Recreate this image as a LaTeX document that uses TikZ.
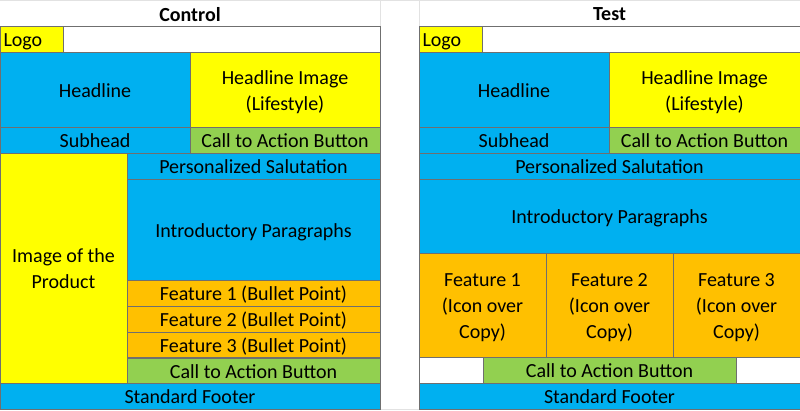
\documentclass[tikz,border=0pt]{standalone}
\usepackage{fontspec}
\setmainfont{Carlito}
\definecolor{xlblue}{HTML}{00B0F0}
\definecolor{xlyellow}{HTML}{FFFF00}
\definecolor{xlgreen}{HTML}{92D050}
\definecolor{xlorange}{HTML}{FFC000}
\definecolor{xlborder}{HTML}{6F6F6F}
\definecolor{xlgrid}{HTML}{E2E2E2}
\tikzset{
  cell/.style={rectangle, inner sep=0pt, outer sep=0pt,
    align=center, font=\fontsize{20}{26}\selectfont},
  border/.style={draw=xlborder, line width=0.9pt},
  title/.style={font=\fontsize{20}{25}\selectfont\bfseries, inner sep=0pt},
  grid/.style={draw=xlgrid, line width=0.8pt}
}
\newcommand\celltext[2]{\raisebox{-2.4pt}[\height][\depth]{\begin{tabular}{@{}#1@{}}#2\end{tabular}}}
\newcommand\xlcell[7]{\node[cell, fill=#6, minimum width={(#4-#2)*1pt}, minimum height={(#5-#3)*1pt}] (#1) at ({(#2+#4)/2},{(#3+#5)/2}) {\celltext{c}{#7}};}
\begin{document}
\begin{tikzpicture}[x=1pt,y=-1pt]
\useasboundingbox (0,0) rectangle (800,410);
\fill[white] (0,0) rectangle (800,410);
% faint spreadsheet grid
\coordinate (g1) at (0,0.5); \coordinate (g2) at (800,0.5);
\draw[grid] (g1) -- (g2);
\coordinate (g3) at (380.5,0); \coordinate (g4) at (380.5,26);
\draw[grid] (g3) -- (g4);
\coordinate (g5) at (419,0); \coordinate (g6) at (419,26);
\draw[grid] (g5) -- (g6);
\coordinate (g7) at (380,409.5); \coordinate (g8) at (419,409.5);
\draw[grid] (g7) -- (g8);
% titles
\node[title] (ctlTitle) at (190,14.5) {Control};
\node[title] (tstTitle) at (609.5,14.5) {Test};
% Control
\xlcell{ctlLogoRow}{0}{26}{380}{52}{white}{}
\node[cell, fill=xlyellow, minimum height=26pt, text width=56pt, inner xsep=3.5pt, align=left, anchor=west] (ctlLogo) at (0,39) {\celltext{l}{Logo}};
\xlcell{ctlHead}{0}{52}{190}{127}{xlblue}{Headline}
\xlcell{ctlHeadImg}{190}{52}{380}{127}{xlyellow}{Headline Image\\(Lifestyle)}
\xlcell{ctlSub}{0}{127}{190}{153}{xlblue}{Subhead}
\xlcell{ctlCtaA}{190}{127}{380}{153}{xlgreen}{Call to Action Button}
\xlcell{ctlImg}{0}{153}{127}{383}{xlyellow}{Image of the\\Product}
\xlcell{ctlSal}{127}{153}{380}{179}{xlblue}{Personalized Salutation}
\xlcell{ctlIntro}{127}{179}{380}{280}{xlblue}{Introductory Paragraphs}
\xlcell{ctlFa}{127}{280}{380}{306}{xlorange}{Feature 1 (Bullet Point)}
\xlcell{ctlFb}{127}{306}{380}{332}{xlorange}{Feature 2 (Bullet Point)}
\xlcell{ctlFc}{127}{332}{380}{358}{xlorange}{Feature 3 (Bullet Point)}
\xlcell{ctlCtaB}{127}{358}{380}{383}{xlgreen}{Call to Action Button}
\xlcell{ctlFoot}{0}{383}{380}{409}{xlblue}{Standard Footer}
% Test
\xlcell{tstLogoRow}{419}{26}{800}{52}{white}{}
\node[cell, fill=xlyellow, minimum height=26pt, text width=56pt, inner xsep=3.5pt, align=left, anchor=west] (tstLogo) at (419,39) {\celltext{l}{Logo}};
\xlcell{tstHead}{419}{52}{609}{127}{xlblue}{Headline}
\xlcell{tstHeadImg}{609}{52}{800}{127}{xlyellow}{Headline Image\\(Lifestyle)}
\xlcell{tstSub}{419}{127}{609}{153}{xlblue}{Subhead}
\xlcell{tstCtaA}{609}{127}{800}{153}{xlgreen}{Call to Action Button}
\xlcell{tstSal}{419}{153}{800}{179}{xlblue}{Personalized Salutation}
\xlcell{tstIntro}{419}{179}{800}{253}{xlblue}{Introductory Paragraphs}
\xlcell{tstFa}{419}{253}{546}{357}{xlorange}{Feature 1\\(Icon over\\Copy)}
\xlcell{tstFb}{546}{253}{673}{357}{xlorange}{Feature 2\\(Icon over\\Copy)}
\xlcell{tstFc}{673}{253}{800}{357}{xlorange}{Feature 3\\(Icon over\\Copy)}
\xlcell{tstBlankL}{419}{357}{483}{383}{white}{}
\xlcell{tstCtaB}{483}{357}{736}{383}{xlgreen}{Call to Action Button}
\xlcell{tstBlankR}{736}{357}{800}{383}{white}{}
\xlcell{tstFoot}{419}{383}{800}{409}{xlblue}{Standard Footer}
% cell borders drawn on top of all fills
\foreach \n in {ctlLogoRow,ctlLogo,ctlHead,ctlHeadImg,ctlSub,ctlCtaA,ctlImg,ctlSal,ctlIntro,ctlFa,ctlFb,ctlFc,ctlCtaB,ctlFoot,
  tstLogoRow,tstLogo,tstHead,tstHeadImg,tstSub,tstCtaA,tstSal,tstIntro,tstFa,tstFb,tstFc,tstBlankL,tstCtaB,tstBlankR,tstFoot}
  \draw[border] (\n.north west) rectangle (\n.south east);
\end{tikzpicture}
\end{document}
